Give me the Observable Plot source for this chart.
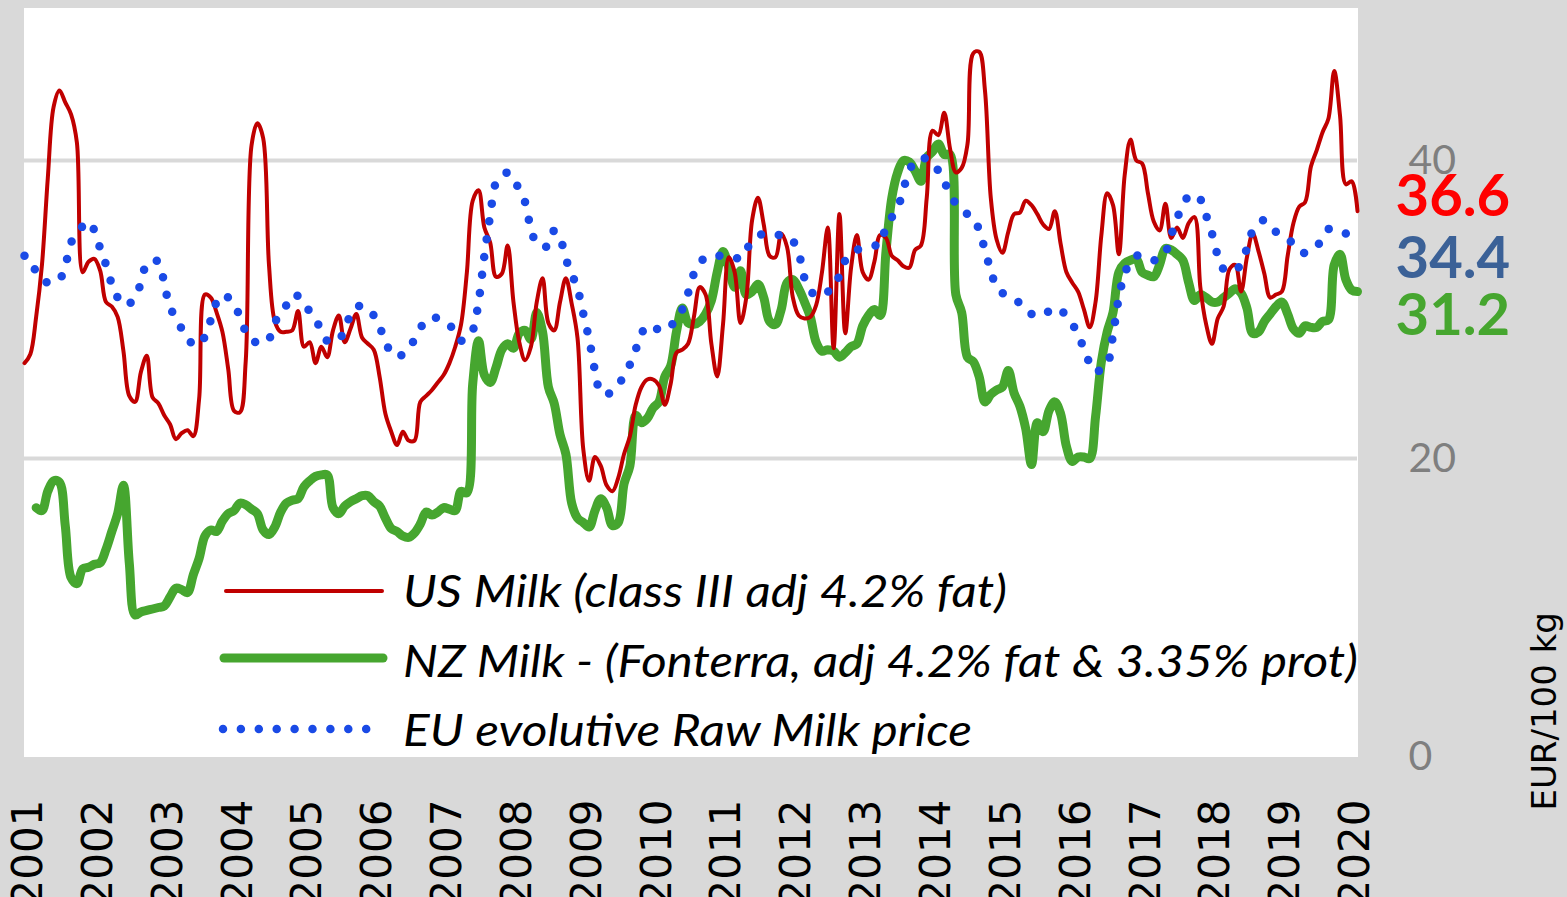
<!DOCTYPE html>
<html><head><meta charset="utf-8">
<script src="https://cdn.jsdelivr.net/npm/d3@7"></script>
<script src="https://cdn.jsdelivr.net/npm/@observablehq/plot@0.6"></script>
<style>
html,body{margin:0;padding:0;background:#d9d9d9;}
#wrap{position:relative;width:1567px;height:897px;overflow:hidden;}
#wrap svg.overlay{position:absolute;left:0;top:0;pointer-events:none;}
</style></head><body><div id="wrap"></div>
<script>
// ---- data (monthly, EUR/100 kg), first month = Jan 2001 ----
const startYear = 2001;
const years = [2001,2002,2003,2004,2005,2006,2007,2008,2009,2010,2011,2012,2013,2014,2015,2016,2017,2018,2019,2020];
const yTicks = [0, 20, 40];
const gridValues = [20, 40];

const usMilk = [
26.4,27.0,29.5,33.0,38.8,43.6,44.7,43.9,43.1,41.2,32.5,33.2,
33.4,32.6,30.5,30.2,29.5,27.2,24.2,23.8,25.8,26.9,24.1,23.7,
22.9,22.3,21.3,21.7,21.9,21.5,24.0,31.0,30.8,29.8,28.5,26.0,
23.2,23.1,26.5,41.0,42.5,41.5,33.0,29.2,28.5,28.5,28.6,29.9,
27.5,27.8,26.4,27.5,26.8,28.6,29.6,27.8,28.7,29.7,28.1,27.7,
27.3,25.5,23.0,21.8,20.9,21.8,21.2,21.2,23.8,24.2,24.6,25.1,
25.6,26.4,27.5,29.0,32.5,37.3,38.0,35.5,34.5,32.2,32.4,34.3,
30.5,27.8,26.6,27.5,30.5,32.1,29.1,28.6,30.5,32.1,30.4,28.1,
20.6,18.5,20.1,19.5,18.2,17.8,18.7,20.3,21.5,23.6,24.8,25.3,
25.3,24.9,23.6,25.0,27.1,27.3,27.7,29.5,31.5,31.0,27.7,25.5,
29.0,33.5,32.5,29.1,30.8,36.0,37.5,35.7,33.6,33.5,35.1,34.2,
30.8,29.6,29.4,29.5,30.3,32.5,35.5,27.4,36.4,28.4,32.8,35.0,
32.5,32.0,33.2,35.0,34.8,33.6,33.3,32.9,32.8,34.0,34.3,37.5,
42.0,41.7,43.2,40.8,39.2,39.5,41.1,47.2,47.3,44.7,37.5,34.7,
33.8,35.2,36.4,36.5,37.3,37.0,36.4,35.7,35.4,36.6,34.4,32.5,
31.8,31.2,30.0,28.8,30.5,35.0,37.8,37.0,33.7,39.0,41.4,40.0,
39.8,37.8,35.9,35.3,37.1,34.8,35.5,34.8,35.8,36.2,31.5,29.0,
27.7,29.4,30.2,32.7,33.0,31.2,33.5,35.1,33.9,32.4,30.8,31.0,
31.2,33.6,35.8,36.9,37.2,39.6,40.7,41.9,42.8,46.0,43.0,38.4,
38.6,36.6
];

const nzStartMonth = 2; // NZ series starts March 2001
const nzMilk = [
16.7,16.5,17.8,18.5,18.4,15.5,12.0,11.6,12.6,12.7,
12.9,13.0,13.9,15.1,16.3,18.2,13.0,9.5,9.7,9.8,9.9,10.0,
10.1,10.7,11.3,11.2,11.0,12.2,13.3,14.8,15.2,15.1,15.8,16.3,
16.5,17.0,16.9,16.6,16.3,15.2,14.9,15.4,16.4,17.0,17.2,17.3,
18.1,18.5,18.8,18.9,18.9,16.7,16.3,16.8,17.1,17.3,17.5,17.5,
17.1,16.8,16.0,15.3,15.1,14.8,14.7,15.0,15.6,16.4,16.2,16.4,
16.7,16.6,16.5,17.8,17.7,25.0,27.9,25.6,25.1,26.1,27.3,27.7,
27.4,28.4,28.6,28.0,29.8,28.5,24.8,23.7,21.6,20.3,17.0,16.0,
15.7,15.4,16.5,17.3,16.7,15.5,15.7,18.3,19.5,22.9,22.4,22.7,
23.4,23.8,25.5,26.2,28.5,30.1,29.1,29.0,29.2,29.7,30.6,32.5,
33.9,32.8,31.5,32.6,31.0,31.2,31.7,30.8,29.2,29.0,30.0,31.8,
32.0,31.4,30.5,29.5,27.8,27.2,27.3,27.2,26.8,27.1,27.5,27.7,
28.9,29.6,30.0,29.6,33.9,37.5,39.2,40.0,39.9,39.3,38.6,40.2,
40.6,41.1,40.4,40.4,31.0,29.8,26.8,26.5,25.5,23.8,24.3,24.6,
24.8,25.9,24.4,23.5,22.0,19.6,22.4,21.8,23.2,23.8,23.0,20.8,
19.8,20.1,20.1,20.0,22.8,26.5,28.5,29.8,32.5,33.1,33.3,33.4,
32.5,32.3,32.2,33.0,34.1,34.0,33.7,33.3,31.8,30.6,31.0,30.8,
30.5,30.5,30.8,31.1,31.4,31.1,30.1,28.4,28.5,29.2,29.7,30.2,
30.5,29.7,28.7,28.4,28.9,28.8,28.8,29.2,29.3,33.0,33.7,32.0,
31.3,31.2
];

const euMilk = [
33.6,33.4,32.5,32.0,31.8,31.8,32.0,32.9,34.5,35.0,35.6,35.9,
35.3,34.1,33.0,31.7,30.8,30.3,30.4,30.8,31.8,33.1,33.3,33.2,
31.8,30.1,29.5,28.7,28.0,27.7,27.6,28.2,29.3,30.5,31.0,30.8,
30.4,29.5,28.5,27.9,27.8,27.7,28.0,29.1,29.8,30.3,31.0,30.9,
30.3,29.9,29.4,28.5,27.9,27.9,27.9,28.8,29.6,30.2,30.2,30.1,
29.6,28.9,27.7,27.2,26.8,27.0,27.4,28.0,28.8,29.1,29.5,29.4,
29.2,29.0,28.3,27.9,28.1,28.6,30.5,33.6,36.3,38.5,38.9,39.2,
38.8,38.0,37.2,35.4,34.4,34.2,34.3,35.3,34.8,33.4,32.4,31.4,
29.7,28.0,25.9,24.4,24.3,24.5,24.9,25.6,26.3,27.3,28.4,28.9,
28.9,28.6,28.6,28.9,29.3,30.0,31.1,32.4,33.1,33.5,33.6,33.6,
33.6,33.6,33.5,33.4,34.0,34.6,34.9,35.1,35.1,35.0,35.0,34.9,
34.6,33.8,32.1,31.3,30.9,31.0,31.2,31.4,32.3,33.3,33.8,34.0,
34.1,34.2,34.3,34.3,35.6,36.2,36.8,38.1,39.3,40.0,40.2,40.1,
39.9,39.3,38.6,37.7,37.1,36.6,36.4,36.2,35.3,34.0,32.6,31.5,
31.1,30.9,30.7,30.4,29.9,29.7,29.6,29.6,29.9,30.1,30.0,29.5,
29.0,28.4,27.3,26.4,25.8,26.0,26.3,28.3,30.8,32.4,33.2,33.6,
33.6,33.5,33.3,33.4,33.8,35.0,36.1,37.0,37.6,37.7,37.4,36.3,
35.1,33.6,32.7,32.6,32.6,33.1,34.1,35.3,35.8,36.0,35.6,35.2,
34.9,34.7,34.4,33.9,33.8,34.0,34.2,34.9,35.4,35.4,35.3,35.1,
34.7,34.4
];

const seriesNames = ["US Milk (class III adj 4.2% fat)", "NZ Milk - (Fonterra, adj 4.2% fat & 3.35% prot)", "EU evolutive Raw Milk price"];
const seriesColors = {us: "#c00000", nz: "#46a62f", eu: "#1a4ae6"};
const endLabelColors = {us: "#ff0000", nz: "#46a62f", eu: "#3b6197"};

// ---- build tables ----
const monthToX = m => startYear + m / 12;
const usData = usMilk.map((v, i) => ({x: monthToX(i), y: v}));
const nzData = nzMilk.map((v, i) => ({x: monthToX(i + nzStartMonth), y: v}));
const euData = euMilk.map((v, i) => ({x: monthToX(i), y: v}));
const lastMonth = usMilk.length - 1;
const endLabels = [
  {key: "us", x: monthToX(lastMonth), y: usMilk[usMilk.length - 1], dy: -14},
  {key: "eu", x: monthToX(lastMonth), y: euMilk[euMilk.length - 1], dy: 16},
  {key: "nz", x: monthToX(lastMonth), y: nzMilk[nzMilk.length - 1], dy: 25}
];

const W = 1567, H = 897;
const chart = Plot.plot({
  width: W, height: H,
  marginLeft: 24, marginRight: 210, marginTop: 8, marginBottom: 141,
  style: {background: "#d9d9d9", fontFamily: "Lato", overflow: "visible"},
  x: {domain: [monthToX(0), monthToX(lastMonth)], axis: null},
  y: {domain: [0, 50.2]},
  marks: [
    Plot.frame({fill: "white", stroke: "white"}),
    Plot.ruleY(gridValues, {stroke: "#d9d9d9", strokeWidth: 4}),
    Plot.axisY({anchor: "right", ticks: yTicks, tickSize: 0, tickPadding: 51, fontSize: 41,
      color: "#7f7f7f", label: null, fontFamily: "Lato", tickFormat: d => String(d)}),
    Plot.line(nzData, {x: "x", y: "y", stroke: seriesColors.nz, strokeWidth: 9, curve: "catmull-rom",
      strokeLinecap: "round", strokeLinejoin: "round"}),
    Plot.line(usData, {x: "x", y: "y", stroke: seriesColors.us, strokeWidth: 4, curve: "catmull-rom",
      strokeLinejoin: "round"}),
    Plot.line(euData, {x: "x", y: "y", stroke: seriesColors.eu, strokeWidth: 8.5, curve: "catmull-rom",
      strokeDasharray: "0 18", strokeLinecap: "round"}),
    Plot.text(years, {x: d => d, text: d => String(d), frameAnchor: "bottom", dx: 4, dy: 43, rotate: -90,
      textAnchor: "end", lineAnchor: "middle", fontSize: 42, fontFamily: "DejaVu Sans", fill: "black"}),
    ...endLabels.map(l => Plot.text([l], {x: "x", y: "y", text: d => d.y.toFixed(1), dx: 38, dy: l.dy,
      textAnchor: "start", lineAnchor: "middle", fontSize: 58, fontWeight: "bold", fontFamily: "Lato",
      fill: endLabelColors[l.key]})),
    Plot.text(["EUR/100 kg"], {frameAnchor: "bottom-right", dx: 188, dy: 54, rotate: -90,
      textAnchor: "start", lineAnchor: "middle", fontSize: 34, fontFamily: "DejaVu Sans", fill: "black"})
  ]
});
const wrap = document.getElementById("wrap");
wrap.appendChild(chart);

// ---- legend (inside plot area, drawn as overlay) ----
const legendItems = [
  {name: seriesNames[0], color: seriesColors.us, width: 4, dash: null, x1: 226, x2: 382, y: 591, tw: 604, ty: 607},
  {name: seriesNames[1], color: seriesColors.nz, width: 9, dash: null, x1: 224, x2: 383, y: 658, tw: 955, ty: 677},
  {name: seriesNames[2], color: seriesColors.eu, width: 8.5, dash: "0 17.9", x1: 223, x2: 384, y: 729, tw: 569, ty: 746}
];
const ov = d3.select(wrap).append("svg").attr("class", "overlay").attr("width", W).attr("height", H);
const g = ov.selectAll("g").data(legendItems).join("g");
g.append("line")
  .attr("x1", d => d.x1).attr("x2", d => d.x2).attr("y1", d => d.y).attr("y2", d => d.y)
  .attr("stroke", d => d.color).attr("stroke-width", d => d.width)
  .attr("stroke-linecap", "round")
  .attr("stroke-dasharray", d => d.dash);
g.append("text")
  .attr("x", 403).attr("y", d => d.ty)
  .attr("font-family", "Lato").attr("font-style", "italic").attr("font-size", 44)
  .attr("fill", "black")
  .attr("textLength", d => d.tw).attr("lengthAdjust", "spacingAndGlyphs")
  .text(d => d.name);
</script></body></html>
